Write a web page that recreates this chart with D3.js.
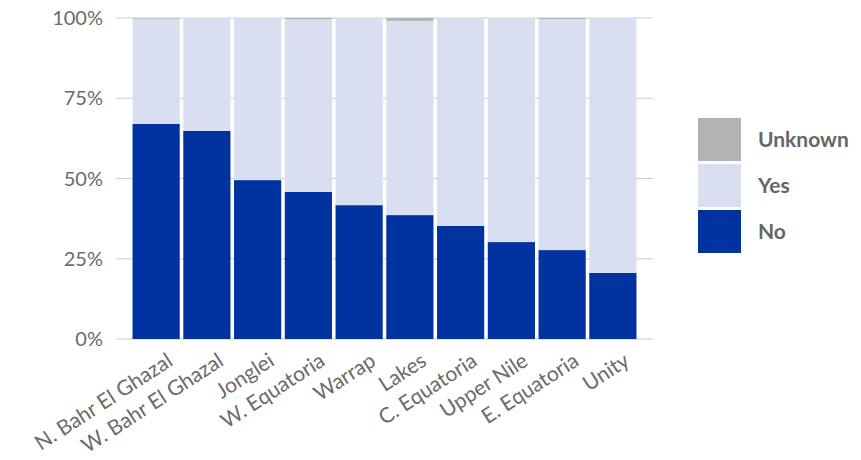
<!DOCTYPE html>
<html>
<head>
<meta charset="utf-8">
<script src="https://cdn.jsdelivr.net/npm/d3@7"></script>
<style>
body { margin: 0; background: #fff; }
text { font-family: "Lato", "Open Sans", sans-serif; }
</style>
</head>
<body>
<svg id="chart" width="861" height="460"></svg>
<script>
var states = ["N. Bahr El Ghazal", "W. Bahr El Ghazal", "Jonglei", "W. Equatoria", "Warrap",
    "Lakes", "C. Equatoria", "Upper Nile", "E. Equatoria", "Unity"];
var noVals = [0.670, 0.648, 0.495, 0.458, 0.417, 0.386, 0.352, 0.302, 0.277, 0.206];
var unknownVals = [0.002, 0, 0, 0.004, 0, 0.009, 0, 0, 0.003, 0];
var yesVals = noVals.map(function(d, i) { return 1 - d - unknownVals[i]; });
var tickVals = [0, 0.25, 0.5, 0.75, 1];
var seriesNames = ["No", "Yes", "Unknown"];
var colors = { "No": "#0033a0", "Yes": "#d9dff0", "Unknown": "#b3b3b3" };

var svg = d3.select("#chart");

var rows = states.map(function(s, i) {
    return { state: s, No: noVals[i], Yes: yesVals[i], Unknown: unknownVals[i] };
});

var x = d3.scaleBand()
    .domain(states)
    .range([131, 638])
    .paddingInner(0.07)
    .paddingOuter(0.03);

var y = d3.scaleLinear()
    .domain([0, 1])
    .range([339, 18]);

// grid
svg.append("g").selectAll("line")
    .data(tickVals)
    .enter().append("line")
    .attr("x1", 116).attr("x2", 653)
    .attr("y1", function(d) { return y(d); })
    .attr("y2", function(d) { return y(d); })
    .attr("stroke", "#cccccc")
    .attr("stroke-width", 1);

svg.append("g").selectAll("text")
    .data(tickVals)
    .enter().append("text")
    .attr("x", 103)
    .attr("y", function(d) { return y(d); })
    .attr("dy", "0.35em")
    .attr("text-anchor", "end")
    .attr("font-size", 20)
    .attr("fill", "#6b6b6b")
    .text(function(d) { return Math.round(d * 100) + "%"; });

var stack = d3.stack().keys(seriesNames);
var layers = stack(rows);

svg.append("g").selectAll("g")
    .data(layers)
    .enter().append("g")
    .attr("fill", function(d) { return colors[d.key]; })
    .selectAll("rect")
    .data(function(d) { return d; })
    .enter().append("rect")
    .attr("x", function(d) { return x(d.data.state); })
    .attr("width", x.bandwidth())
    .attr("y", function(d) { return y(d[1]); })
    .attr("height", function(d) { return y(d[0]) - y(d[1]); });

// category labels
svg.append("g").selectAll("text")
    .data(states)
    .enter().append("text")
    .attr("transform", function(d) {
        return "translate(" + (x(d) + x.bandwidth() / 2 + 10) + ",352) rotate(-33)";
    })
    .attr("text-anchor", "end")
    .attr("dy", "0.7em")
    .attr("font-size", 21)
    .attr("fill", "#6b6b6b")
    .text(function(d) { return d; });

// legend
var legendItems = ["Unknown", "Yes", "No"];
var legend = svg.append("g").selectAll("g")
    .data(legendItems)
    .enter().append("g")
    .attr("transform", function(d, i) { return "translate(698," + (118 + i * 46) + ")"; });

legend.append("rect")
    .attr("width", 43)
    .attr("height", 43)
    .attr("fill", function(d) { return colors[d]; });

legend.append("text")
    .attr("x", 60)
    .attr("y", 22)
    .attr("dy", "0.35em")
    .attr("font-size", 21)
    .attr("font-weight", "bold")
    .attr("fill", "#666")
    .text(function(d) { return d; });
</script>
</body>
</html>
